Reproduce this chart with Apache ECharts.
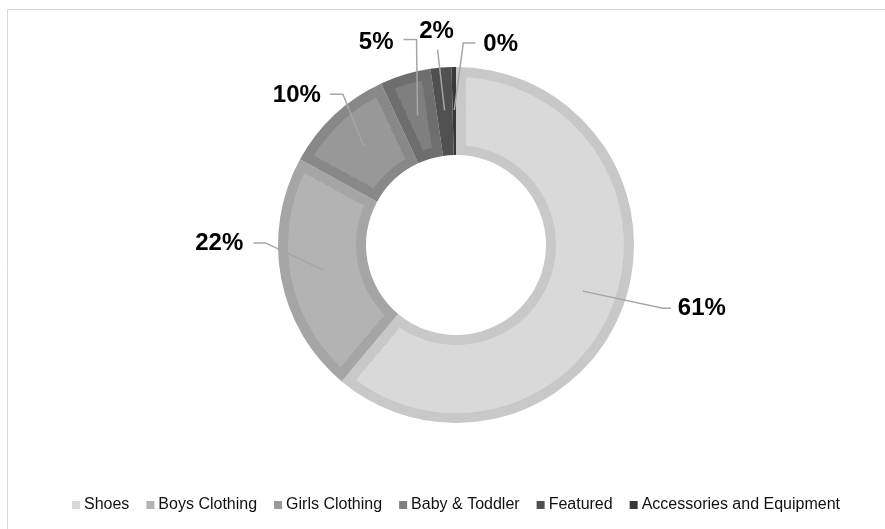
<!DOCTYPE html>
<html>
<head>
<meta charset="utf-8">
<script src="https://cdn.jsdelivr.net/npm/echarts@6/dist/echarts.min.js"></script>
<style>
  html, body { margin: 0; padding: 0; background: #ffffff; }
  #chart { width: 885px; height: 529px; }
</style>
</head>
<body>
<div id="chart"></div>
<script>
// Sales share by product group (percent of total)
const categories = ['Shoes', 'Boys Clothing', 'Girls Clothing', 'Baby & Toddler', 'Featured', 'Accessories and Equipment'];
const shares = [61.1, 21.9, 10.1, 4.6, 1.9, 0.4];

// Slice fill and slice edge shades
const fillColors = ['#d9d9d9', '#b3b3b3', '#989898', '#7f7f7f', '#5a5a5a', '#3e3e3e'];
const edgeColors = ['#c8c8c8', '#a5a5a5', '#888888', '#6e6e6e', '#505050', '#383838'];

// Ring geometry
const CENTER = [456, 245];
const R_INNER = 90;
const R_OUTER = 178;
const EDGE = 10;          // width of the darker edge band inside each slice
const ANCHOR_R = 135;     // radius where leader lines start
const FILL_BANDS = 6;     // fill is split in bands so the edge band keeps a steady width

// Leader line shape for each label: bend offset from the slice anchor,
// horizontal tail length, label offset from the tail end, text alignment
const leaders = [
  { bend: [80, 17],  tail: 8,   label: [7, 0],    align: 'left' },
  { bend: [-58, -27], tail: -12, label: [-10, 0], align: 'right' },
  { bend: [-21, -52], tail: -13, label: [-9, 1],  align: 'right' },
  { bend: [-1, -76],  tail: -13, label: [-10, 3], align: 'right' },
  { bend: [-7, -61],  tail: 0,   label: [-1, -18], align: 'center' },
  { bend: [9, -67],   tail: 12,  label: [8, 1],   align: 'left' }
];

const total = shares.reduce((a, b) => a + b, 0);
const pctText = v => Math.round(v / total * 100) + '%';
const CLEAR = 'rgba(0,0,0,0)';

const ringBase = {
  type: 'pie',
  silent: true,
  animation: false,
  center: CENTER,
  startAngle: 90,
  clockwise: true,
  avoidLabelOverlap: false,
  label: { show: false },
  labelLine: { show: false },
  emphasis: { disabled: true }
};

const series = [];

// Inner fill bands, each slice inset by the edge width on both radial sides.
// Listed first so the legend takes the fill shade.
const fillIn = R_INNER + EDGE;
const fillOut = R_OUTER - EDGE;
const bandW = (fillOut - fillIn) / FILL_BANDS;
for (let k = 0; k < FILL_BANDS; k++) {
  const r0 = fillIn + k * bandW;
  const r1 = r0 + bandW;
  const rm = (r0 + r1) / 2;
  const inset = (EDGE / rm) / (2 * Math.PI) * total;   // edge width expressed in share units
  const data = [];
  categories.forEach((name, i) => {
    const inner = shares[i] - 2 * inset;
    if (inner <= 0) {
      data.push({ name: '', value: shares[i], itemStyle: { color: CLEAR } });
    } else {
      data.push({ name: '', value: inset, itemStyle: { color: CLEAR } });
      data.push({ name: name, value: inner, itemStyle: { color: fillColors[i] } });
      data.push({ name: '', value: inset, itemStyle: { color: CLEAR } });
    }
  });
  series.push(Object.assign({}, ringBase, {
    z: 3,
    radius: [r0 - (k > 0 ? 0.6 : 0), r1],
    itemStyle: { borderWidth: 0 },
    data: data
  }));
}

// Full ring in the edge shades, under the fill bands
series.push(Object.assign({}, ringBase, {
  z: 2,
  radius: [R_INNER, R_OUTER],
  itemStyle: { borderWidth: 0 },
  data: categories.map((name, i) => ({ name: name, value: shares[i], itemStyle: { color: edgeColors[i] } }))
}));

// Percent labels with leader lines starting mid-ring
series.push(Object.assign({}, ringBase, {
  z: 5,
  radius: [0, ANCHOR_R],
  itemStyle: { color: CLEAR, borderWidth: 0 },
  label: {
    show: true,
    position: 'outside',
    formatter: p => pctText(p.value),
    fontFamily: 'Liberation Sans, Arial, sans-serif',
    fontSize: 24,
    fontWeight: 'bold',
    color: '#000000'
  },
  labelLine: {
    show: true,
    length: 10,
    length2: 10,
    lineStyle: { color: '#a6a6a6', width: 1.5 }
  },
  labelLayout: function (p) {
    const L = leaders[p.dataIndex];
    const p0 = p.labelLinePoints[0];
    const bend = [p0[0] + L.bend[0], p0[1] + L.bend[1]];
    const end = [bend[0] + L.tail, bend[1]];
    return {
      x: end[0] + L.label[0],
      y: end[1] + L.label[1],
      align: L.align,
      verticalAlign: 'middle',
      labelLinePoints: [p0, bend, end]
    };
  },
  data: categories.map((name, i) => ({ name: name, value: shares[i] }))
}));

const chart = echarts.init(document.getElementById('chart'), null, { renderer: 'canvas' });
chart.setOption({
  animation: false,
  backgroundColor: '#ffffff',
  graphic: [{
    type: 'rect',
    silent: true,
    shape: { x: 7.5, y: 9.5, width: 900, height: 540 },
    style: { fill: 'none', stroke: '#d9d9d9', lineWidth: 1 }
  }],
  legend: {
    data: categories,
    left: 67,
    top: 492,
    width: 810,
    icon: 'rect',
    itemWidth: 8,
    itemHeight: 8,
    itemGap: 17,
    selectedMode: false,
    textStyle: {
      fontFamily: 'Liberation Sans, Arial, sans-serif',
      fontSize: 16,
      color: '#111111',
      padding: [0, 0, 0, -1]
    }
  },
  series: series
});
</script>
</body>
</html>
